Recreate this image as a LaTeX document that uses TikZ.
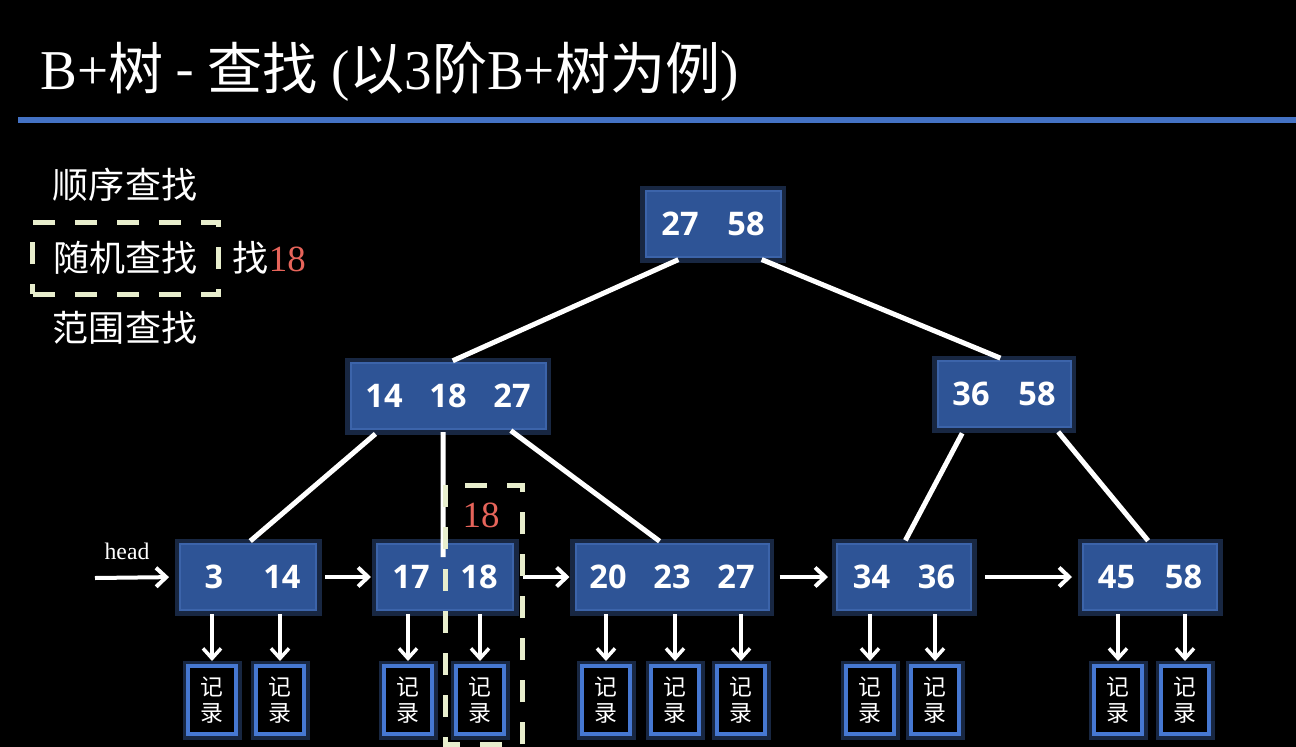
\documentclass[tikz,border=0pt]{standalone}
\usepackage{fontspec}
\usepackage{graphicx}
\setmainfont{Liberation Serif}
\newfontfamily\cjk{Noto Sans CJK SC}
\newfontfamily\keyfont{Open Sans}
\usetikzlibrary{arrows.meta,positioning,calc}
\definecolor{slideblue}{RGB}{68,114,196}
\definecolor{nodeblue}{RGB}{46,84,150}
\definecolor{nodeedge}{RGB}{60,100,170}
\definecolor{glowblue}{RGB}{80,130,220}
\definecolor{recblue}{RGB}{70,120,210}
\definecolor{dashcream}{RGB}{232,238,205}
\definecolor{hitred}{RGB}{230,100,90}
\newcommand{\kslot}[2][13.2mm]{\makebox[#1]{#2}}

\begin{document}
\begin{tikzpicture}[
    x=0.2mm,y=-0.2mm,
    tnode/.style={fill=nodeblue,draw=nodeedge,line width=0.4mm,minimum height=13.2mm,inner sep=0pt,text=white,
      font=\keyfont\bfseries\fontsize{18.5}{20}\selectfont,preaction={draw=glowblue,line width=2.2mm,opacity=0.3}},
    rec/.style={fill=black,draw=recblue,line width=0.8mm,minimum width=9.6mm,minimum height=13.6mm,inner sep=0pt,
      align=center,text=white,font=\cjk\fontsize{13}{14.4}\selectfont,preaction={draw=glowblue,line width=2.2mm,opacity=0.3}},
    treeline/.style={draw=white,line width=1mm},
    rarr/.style={draw=white,line width=0.8mm,-{Straight Barb[length=2mm,width=3.8mm]}},
    downarr/.style={draw=white,line width=0.7mm,-{Straight Barb[length=2mm,width=3.6mm]}},
    dashbox/.style={draw=dashcream,line width=1mm,dash pattern=on 4.4mm off 4mm},
    label/.style={text=white,font=\cjk\fontsize{20.5}{24}\selectfont,inner sep=0pt}
  ]
  % background and title
  \fill[black] (0,0) rectangle (1296,747);
  \useasboundingbox (0,0) rectangle (1296,747);
  \node[anchor=west,text=white,inner sep=0pt] (title) at (40,72)
    {\fontsize{32}{36}\selectfont\scalebox{0.98}[1]{B+{\cjk 树 - 查找} ({\cjk 以}3{\cjk 阶}B+{\cjk 树为例})}};
  \draw[slideblue,line width=1.2mm] (18,120) -- (1296,120);

  % search kinds
  \node[label] (seq) at (125,185) {顺序查找};
  \node[label,dashbox,minimum width=37mm,minimum height=14.4mm] (rnd) at (125.5,258) {随机查找};
  \node[label] (rng) at (125,328) {范围查找};
  \node[label,right=2.4mm of rnd] (find) {找{\rmfamily\fontsize{21}{24}\selectfont\color{hitred}18}};

  % tree nodes
  \node[tnode,minimum width=27mm] (root) at (713,224) {\kslot{27}\kslot{58}};
  \node[tnode,minimum width=39mm] (m1) at (448,396) {\kslot[12.8mm]{14}\kslot[12.8mm]{18}\kslot[12.8mm]{27}};
  \node[tnode,minimum width=26.6mm] (m2) at (1004,394) {\kslot{36}\kslot{58}};
  \node[tnode,minimum width=27mm] (l1) at (248,577) {\kslot[13.6mm]{3}\kslot[13.6mm]{14}};
  \node[tnode,minimum width=27mm] (l2) at (445,577) {\kslot[13.6mm]{17}\kslot[13.6mm]{18}};
  \node[tnode,minimum width=38.6mm] (l3) at (672,577) {\kslot[12.8mm]{20}\kslot[12.8mm]{23}\kslot[12.8mm]{27}};
  \node[tnode,minimum width=26.8mm] (l4) at (904,577) {\kslot[13mm]{34}\kslot[13mm]{36}};
  \node[tnode,minimum width=26.8mm] (l5) at (1150,577) {\kslot[13.4mm]{45}\kslot[13.4mm]{58}};

  % records
  \foreach \n/\x/\lf in {1/212/l1,2/280/l1,3/408/l2,4/480/l2,5/606/l3,6/675/l3,7/741/l3,8/870/l4,9/935/l4,10/1118/l5,11/1185/l5}{
    \node[rec] (r\n) at (\x,700) {记\\录};
    \draw[downarr,shorten <=0.6mm,shorten >=0.6mm] (\lf.south -| r\n.north) -- (r\n.north);
  }

  % tree lines
  \draw[treeline,shorten <=0.8mm,shorten >=0.6mm] ([xshift=-6.2mm]root.south) -- ([xshift=0.4mm]m1.north);
  \draw[treeline,shorten <=0.8mm,shorten >=1mm] ([xshift=9mm]root.south) -- ([xshift=0.2mm]m2.north);
  \draw[treeline,shorten <=1.2mm,shorten >=0.6mm] ([xshift=-13.6mm]m1.south) -- (l1.north);
  \draw[treeline,shorten <=0.4mm] ([xshift=-1mm]m1.south) -- ([xshift=-0.4mm,yshift=-2.8mm]l2.north);
  \draw[treeline,shorten <=0.2mm,shorten >=0.6mm] ([xshift=12.4mm]m1.south) -- ([xshift=-2mm]l3.north);
  \draw[treeline,shorten <=1.2mm,shorten >=0.6mm] ([xshift=-7.8mm]m2.south) -- (l4.north);
  \draw[treeline,shorten <=1mm,shorten >=0.6mm] ([xshift=10.2mm]m2.south) -- (l5.north);

  % leaf links
  \coordinate (head) at (95,578);
  \node[text=white,font=\fontsize{13.5}{16}\selectfont] (headlbl) at (127,551) {head};
  \draw[rarr,shorten >=2mm] (head) -- (l1.west);
  \draw[rarr,shorten <=1.6mm,shorten >=1mm] (l1.east) -- (l2.west);
  \draw[rarr,shorten <=1.8mm,shorten >=1mm] (l2.east) -- (l3.west);
  \draw[rarr,shorten <=2mm,shorten >=1.6mm] (l3.east) -- (l4.west);
  \draw[rarr,shorten <=2.6mm,shorten >=2mm] (l4.east) -- (l5.west);

  % hit column
  \draw[dashbox] (445,485) rectangle (522,744);
  \node[text=hitred,font=\fontsize{21}{24}\selectfont] (hit) at (481,515) {18};
\end{tikzpicture}
\end{document}
